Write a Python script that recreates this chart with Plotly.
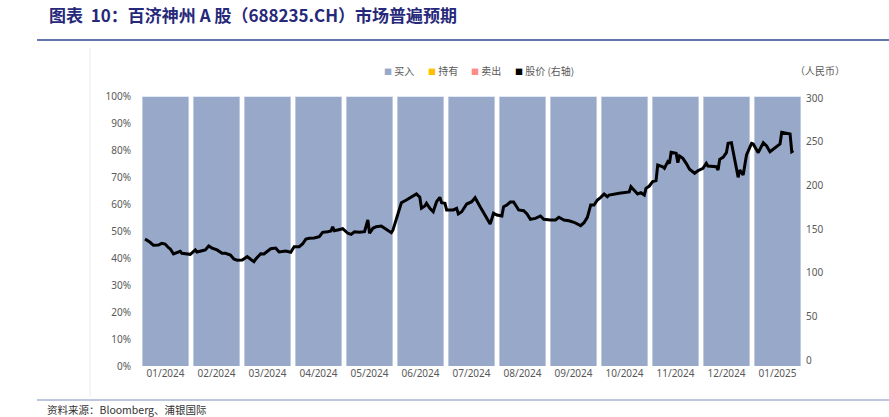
import plotly.graph_objects as go

# monthly consensus split (%), bars
months = ["01/2024", "02/2024", "03/2024", "04/2024", "05/2024", "06/2024", "07/2024",
          "08/2024", "09/2024", "10/2024", "11/2024", "12/2024", "01/2025"]
buy = [100] * 13
hold = [0] * 13
sell = [0] * 13

# share price (RMB)
price_dates = [
    "2024-01-04", "2024-01-07", "2024-01-09", "2024-01-11", "2024-01-12", "2024-01-14", "2024-01-16",
    "2024-01-18", "2024-01-19", "2024-01-21", "2024-01-23", "2024-01-25", "2024-01-26", "2024-01-29",
    "2024-01-31", "2024-02-03", "2024-02-04", "2024-02-07", "2024-02-09", "2024-02-11", "2024-02-13",
    "2024-02-16", "2024-02-19", "2024-02-21", "2024-02-24", "2024-02-26", "2024-02-28", "2024-03-02",
    "2024-03-05", "2024-03-07", "2024-03-09", "2024-03-10", "2024-03-13", "2024-03-15", "2024-03-17",
    "2024-03-19", "2024-03-22", "2024-03-24", "2024-03-28", "2024-03-31", "2024-04-02", "2024-04-05",
    "2024-04-07", "2024-04-09", "2024-04-11", "2024-04-14", "2024-04-17", "2024-04-19", "2024-04-22",
    "2024-04-24", "2024-04-25", "2024-04-26", "2024-04-28", "2024-05-01", "2024-05-04", "2024-05-06",
    "2024-05-08", "2024-05-11", "2024-05-14", "2024-05-16", "2024-05-17", "2024-05-19", "2024-05-21",
    "2024-05-24", "2024-05-26", "2024-05-28", "2024-05-30", "2024-05-31", "2024-06-03", "2024-06-05",
    "2024-06-08", "2024-06-11", "2024-06-14", "2024-06-16", "2024-06-17", "2024-06-19", "2024-06-20",
    "2024-06-22", "2024-06-24", "2024-06-26", "2024-06-28", "2024-06-29", "2024-07-01", "2024-07-02",
    "2024-07-06", "2024-07-08", "2024-07-09", "2024-07-11", "2024-07-14", "2024-07-17", "2024-07-19",
    "2024-07-22", "2024-07-25", "2024-07-28", "2024-07-30", "2024-08-01", "2024-08-04", "2024-08-05",
    "2024-08-07", "2024-08-09", "2024-08-11", "2024-08-14", "2024-08-17", "2024-08-19", "2024-08-21",
    "2024-08-24", "2024-08-27", "2024-08-29", "2024-09-02", "2024-09-05", "2024-09-07", "2024-09-10",
    "2024-09-13", "2024-09-16", "2024-09-20", "2024-09-22", "2024-09-24", "2024-09-26", "2024-09-28",
    "2024-09-30", "2024-10-02", "2024-10-04", "2024-10-06", "2024-10-07", "2024-10-13", "2024-10-19",
    "2024-10-20", "2024-10-22", "2024-10-24", "2024-10-26", "2024-10-28", "2024-10-29", "2024-10-31",
    "2024-11-02", "2024-11-04", "2024-11-05", "2024-11-08", "2024-11-09", "2024-11-11", "2024-11-12",
    "2024-11-13", "2024-11-16", "2024-11-17", "2024-11-18", "2024-11-20", "2024-11-22", "2024-11-24",
    "2024-11-27", "2024-11-29", "2024-12-02", "2024-12-04", "2024-12-05", "2024-12-08", "2024-12-10",
    "2024-12-11", "2024-12-12", "2024-12-14", "2024-12-16", "2024-12-17", "2024-12-19", "2024-12-21",
    "2024-12-23", "2024-12-24", "2024-12-26", "2024-12-28", "2024-12-31", "2025-01-01", "2025-01-03",
    "2025-01-04", "2025-01-07", "2025-01-09", "2025-01-11", "2025-01-15", "2025-01-17", "2025-01-18",
    "2025-01-23", "2025-01-24", "2025-01-25",
]
price = [
    138.5, 134.8, 131.3, 132.0, 131.7, 133.6, 132.8,
    128.6, 127.4, 121.4, 122.9, 124.5, 122.2, 121.0,
    121.0, 126.0, 123.7, 125.1, 126.0, 130.5, 128.2,
    126.0, 122.2, 122.2, 120.2, 115.6, 114.2, 114.5,
    118.3, 115.3, 112.6, 115.3, 121.7, 121.4, 124.0,
    127.4, 128.2, 123.7, 124.8, 123.3, 129.7, 129.7,
    132.8, 138.5, 139.3, 139.7, 141.2, 146.2, 146.9,
    147.7, 152.6, 148.0, 148.9, 150.3, 145.1, 143.9,
    146.9, 146.2, 146.9, 160.3, 145.1, 150.8, 152.6,
    153.4, 150.8, 148.0, 145.8, 148.9, 168.0, 180.1,
    183.2, 187.0, 190.1, 186.3, 173.7, 176.3, 179.4,
    173.7, 169.8, 181.3, 186.3, 180.1, 179.4, 171.8,
    171.8, 173.7, 167.2, 169.8, 178.6, 181.3, 185.8,
    175.5, 166.0, 155.7, 168.0, 166.0, 164.9, 175.5,
    177.5, 180.9, 180.9, 171.8, 170.9, 167.2, 161.1,
    162.2, 164.9, 161.1, 160.3, 160.3, 163.4, 160.3,
    159.5, 157.7, 153.8, 157.2, 163.4, 177.5, 177.5,
    183.2, 186.3, 190.1, 187.0, 188.9, 190.9, 192.4,
    198.4, 194.7, 190.1, 191.6, 188.9, 196.6, 199.2,
    204.2, 205.3, 223.3, 221.3, 219.5, 227.1, 225.2,
    237.8, 236.7, 225.9, 233.6, 230.9, 225.2, 218.4,
    213.8, 216.7, 219.5, 225.2, 222.1, 222.1, 221.3,
    217.6, 229.8, 232.1, 237.4, 248.1, 248.8, 229.0,
    209.2, 217.6, 211.8, 234.7, 248.1, 247.3, 239.6,
    237.4, 248.8, 245.0, 238.5, 245.0, 247.3, 260.7,
    258.8, 238.5, 239.6,
]

BUY_C = "#98A8C9"
HOLD_C = "#FFC000"
SELL_C = "#FF8A8A"
GREY = "#595959"
CJK = "Noto Sans CJK SC"

fig = go.Figure()
fig.add_trace(go.Bar(x=months, y=buy, name="买入", marker_color=BUY_C, showlegend=False))
fig.add_trace(go.Bar(x=months, y=hold, name="持有", marker_color=HOLD_C, showlegend=False))
fig.add_trace(go.Bar(x=months, y=sell, name="卖出", marker_color=SELL_C, showlegend=False))
fig.add_trace(go.Scatter(x=price_dates, y=price, name="股价 (右轴)", mode="lines",
                         line=dict(color="black", width=3), xaxis="x2", yaxis="y2",
                         showlegend=False))

fig.update_layout(
    width=889, height=417,
    margin=dict(l=140, r=86, t=96, b=51),
    paper_bgcolor="white", plot_bgcolor="white",
    barmode="stack", bargap=0.09,
    font=dict(family="Noto Sans, " + CJK, size=10, color=GREY),
    xaxis=dict(type="category", range=[-0.5, 12.5], showgrid=False, showline=False,
               ticks="", tickfont=dict(size=10, color=GREY)),
    xaxis2=dict(type="date", overlaying="x", range=["2024-01-01", "2025-01-30 17:00"],
                visible=False),
    yaxis=dict(range=[0, 100], tickmode="linear", tick0=0, dtick=10, ticksuffix="%",
               showgrid=False, zeroline=False, showline=False, ticklabelstandoff=8,
               tickfont=dict(size=10, color=GREY)),
    yaxis2=dict(overlaying="y", side="right", range=[-6.87, 302.29], tickmode="linear",
                tick0=0, dtick=50, showgrid=False, zeroline=False, showline=False,
                ticklabelstandoff=2, tickfont=dict(size=10, color=GREY)),
)

W, H, L, T = 663.0, 270.0, 140.0, 96.0


def px(x):
    return (x - L) / W


def py(y):
    return 1 - (y - T) / H


# title, rules, frame edge
fig.add_annotation(x=px(47), y=py(15), xref="paper", yref="paper", xanchor="left", yanchor="middle",
                   showarrow=False, text="<b>图表  10：百济神州 A 股（688235.CH）市场普遍预期</b>",
                   font=dict(family=CJK, size=17, color="#26287A"))
fig.add_shape(type="line", xref="paper", yref="paper", x0=px(37), x1=px(889), y0=py(40), y1=py(40),
              line=dict(color="#2E4A8F", width=1.5))
fig.add_shape(type="line", xref="paper", yref="paper", x0=px(90), x1=px(90), y0=py(48), y1=py(397),
              line=dict(color="#EBEBEB", width=1))
fig.add_shape(type="line", xref="paper", yref="paper", x0=px(37), x1=px(889), y0=py(400), y1=py(400),
              line=dict(color="#7F8CC0", width=1))
fig.add_annotation(x=px(45), y=py(409), xref="paper", yref="paper", xanchor="left", yanchor="middle",
                   showarrow=False, text="资料来源：Bloomberg、浦银国际",
                   font=dict(family=CJK, size=10.5, color="#333333"))

# legend row
legend_items = [("买入", BUY_C, 382), ("持有", HOLD_C, 426), ("卖出", SELL_C, 469), ("股价 (右轴)", "black", 513)]
for label, color, lx in legend_items:
    fig.add_annotation(x=px(lx), y=py(70), xref="paper", yref="paper", xanchor="left", yanchor="middle",
                       showarrow=False,
                       text=f'<span style="color:{color};font-size:8px">■</span> {label}',
                       font=dict(family=CJK, size=10, color=GREY))
fig.add_annotation(x=px(820), y=py(70), xref="paper", yref="paper", xanchor="center", yanchor="middle",
                   showarrow=False, text="（人民币）", font=dict(family=CJK, size=10, color=GREY))

fig.write_html("out.html", config={"displayModeBar": False},
               post_script="document.body.style.margin='0';")
